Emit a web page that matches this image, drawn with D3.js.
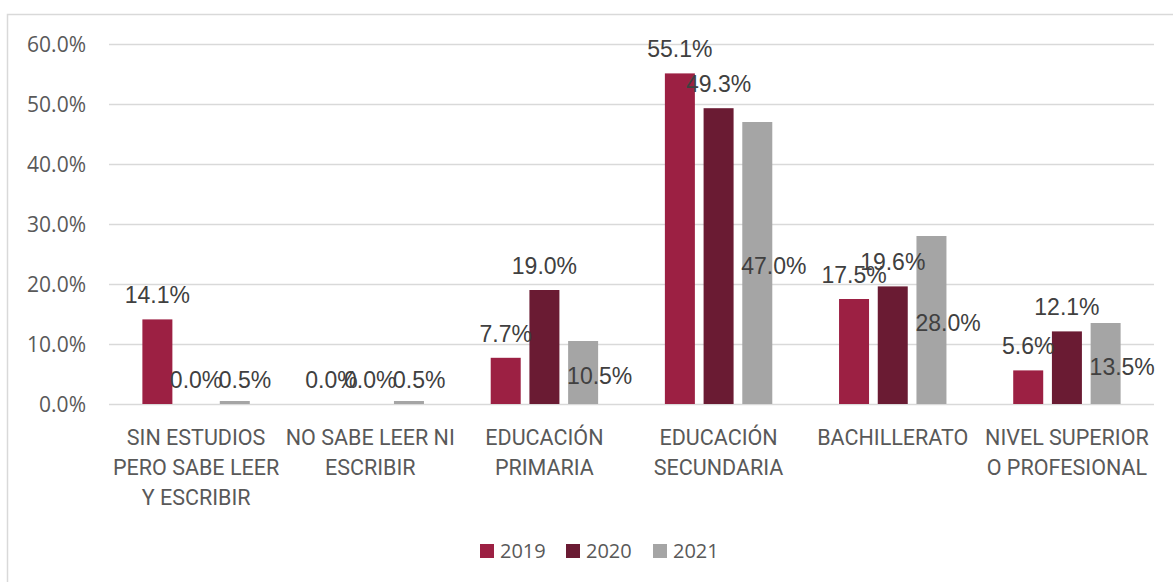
<!DOCTYPE html>
<html>
<head>
<meta charset="utf-8">
<script src="https://cdn.jsdelivr.net/npm/d3@7"></script>
<style>
  html, body { margin: 0; padding: 0; background: #fff; }
  svg { display: block; }
</style>
</head>
<body>
<svg id="chart" width="1173" height="582"></svg>
<script>
const categories = [
  "SIN ESTUDIOS PERO SABE LEER Y ESCRIBIR",
  "NO SABE LEER NI ESCRIBIR",
  "EDUCACIÓN PRIMARIA",
  "EDUCACIÓN SECUNDARIA",
  "BACHILLERATO",
  "NIVEL SUPERIOR O PROFESIONAL"
];
const categoryLines = [
  ["SIN ESTUDIOS", "PERO SABE LEER", "Y ESCRIBIR"],
  ["NO SABE LEER NI", "ESCRIBIR"],
  ["EDUCACIÓN", "PRIMARIA"],
  ["EDUCACIÓN", "SECUNDARIA"],
  ["BACHILLERATO"],
  ["NIVEL SUPERIOR", "O PROFESIONAL"]
];
const seriesNames = ["2019", "2020", "2021"];
const values2019 = [14.1, 0.0, 7.7, 55.1, 17.5, 5.6];
const values2020 = [0.0, 0.0, 19.0, 49.3, 19.6, 12.1];
const values2021 = [0.5, 0.5, 10.5, 47.0, 28.0, 13.5];
const yTicks = [0, 10, 20, 30, 40, 50, 60];
const colors = ["#9C2043", "#6A1B33", "#A5A5A5"];

const series = [values2019, values2020, values2021];

const svg = d3.select("#chart");

// outer chart border
svg.append("rect")
  .attr("x", 7.5).attr("y", 14.5)
  .attr("width", 1200).attr("height", 600)
  .attr("fill", "none").attr("stroke", "#d9d9d9").attr("stroke-width", 1.5);

const plotLeft = 109, plotRight = 1154;
const y = d3.scaleLinear().domain([0, 60]).range([404, 44]);
const x0 = d3.scaleBand().domain(d3.range(categories.length)).range([plotLeft, plotRight]).paddingInner(0).paddingOuter(0);
const x1 = d3.scaleBand().domain(d3.range(series.length)).range([0, x0.bandwidth()]).paddingInner(0.225).paddingOuter(0.8625);

// gridlines
const yAxis = d3.axisLeft(y).tickValues(yTicks)
  .tickSize(-(plotRight - plotLeft))
  .tickFormat(d => d3.format(".1f")(d) + "%");
const ga = svg.append("g").attr("transform", `translate(${plotLeft},0)`).call(yAxis);
ga.select(".domain").remove();
ga.selectAll(".tick line").attr("stroke", "#d9d9d9").attr("stroke-width", 1.5);
ga.selectAll(".tick text")
  .attr("x", -23)
  .attr("dy", "0.36em")
  .attr("fill", "#595959")
  .style("font-family", "'Open Sans', 'Noto Sans', sans-serif")
  .style("font-size", "21px");

// bars
const gBars = svg.append("g");
series.forEach((vals, si) => {
  gBars.selectAll(null).data(vals).enter().append("rect")
    .attr("x", (d, i) => x0(i) + x1(si))
    .attr("y", d => y(d))
    .attr("width", x1.bandwidth())
    .attr("height", d => y(0) - y(d))
    .attr("fill", colors[si]);
});

// data labels
const labelFont = "'Liberation Sans', Arial, sans-serif";
const gLabels = svg.append("g")
  .style("font-family", labelFont).style("font-size", "23px").attr("fill", "#404040");
series.forEach((vals, si) => {
  gLabels.selectAll(null).data(vals).enter().append("text")
    .attr("x", (d, i) => si < 2 ? x0(i) + x1(si) + x1.bandwidth() / 2 : x0(i) + x1(si) - 1)
    .attr("y", d => {
      if (si < 2) return y(d) - 24;
      return Math.min((y(d) + y(0)) / 2 + 3, 380);
    })
    .attr("dy", "0.35em")
    .attr("text-anchor", si < 2 ? "middle" : "start")
    .text(d => d3.format(".1f")(d) + "%");
});

// category labels
const gCat = svg.append("g")
  .style("font-family", "Roboto, sans-serif").style("font-size", "21.5px").attr("fill", "#595959");
categoryLines.forEach((lines, i) => {
  const t = gCat.append("text").attr("text-anchor", "middle");
  lines.forEach((ln, k) => {
    t.append("tspan").attr("x", x0(i) + x0.bandwidth() / 2).attr("y", 445 + k * 30).text(ln);
  });
});

// legend
const legendX = [480, 566, 653];
const gLeg = svg.append("g");
seriesNames.forEach((n, i) => {
  gLeg.append("rect").attr("x", legendX[i]).attr("y", 544).attr("width", 14).attr("height", 14).attr("fill", colors[i]);
  gLeg.append("text").attr("x", legendX[i] + 20).attr("y", 551).attr("dy", "0.36em")
    .attr("fill", "#595959")
    .style("font-family", "'Open Sans', 'Noto Sans', sans-serif").style("font-size", "20px")
    .text(n);
});
</script>
</body>
</html>
